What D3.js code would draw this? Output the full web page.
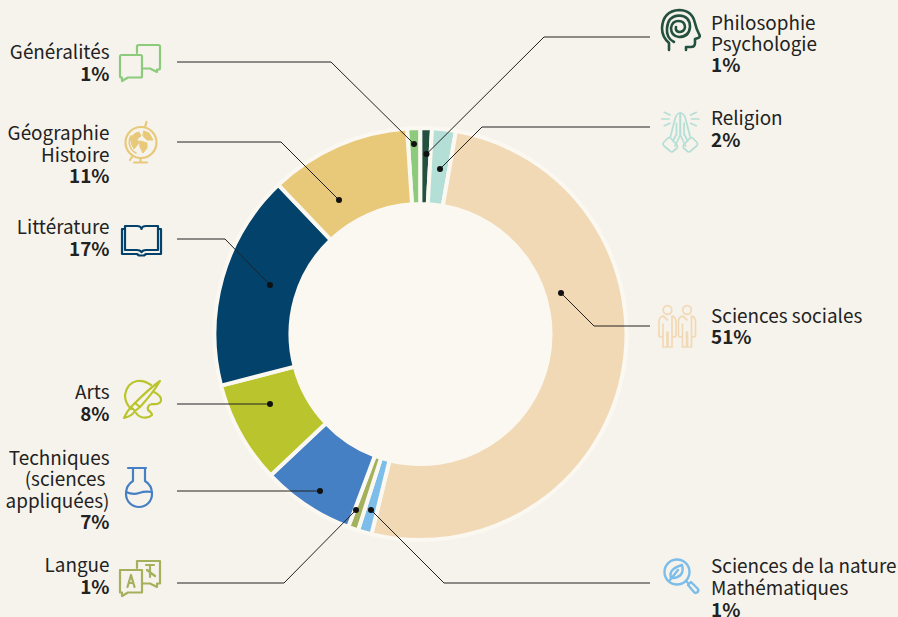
<!DOCTYPE html>
<html><head><meta charset="utf-8">
<script src="https://cdnjs.cloudflare.com/ajax/libs/d3/7.8.5/d3.min.js"></script>
<style>html,body{margin:0;padding:0;background:#f6f3ec}svg{display:block}
text{font-family:"Noto Sans CJK JP","Noto Sans",sans-serif;font-size:18.9px;fill:#222}</style>
</head><body><svg id="c" width="898" height="617"></svg>
<script>
const categories=["Généralités","Philosophie Psychologie","Religion","Sciences sociales","Sciences de la nature Mathématiques","Langue","Techniques (sciences appliquées)","Arts","Littérature","Géographie Histoire"];
const shares=[1.03,0.9,1.86,51.03,1.08,0.8,7.25,8,16.9,11.07];
const percentLabels=["1%","1%","2%","51%","1%","1%","7%","8%","17%","11%"];
const colors=["#8ccb7c","#24503f","#b4dfd6","#f2d9b5","#7cbde9","#a3b05c","#4680c4","#bac52d","#03426a","#e8c97a"];
const startDeg=-3.75;

const svg=d3.select("#c");
const cx=420.5,cy=334,rO=206,rI=130;
svg.append("circle").attr("cx",cx).attr("cy",cy).attr("r",rI+2).attr("fill","#fbf8f1");
const pie=d3.pie().sort(null).value(d=>d).startAngle(startDeg*Math.PI/180).endAngle((startDeg+360)*Math.PI/180);
const arc=d3.arc().innerRadius(rI).outerRadius(rO);
const g=svg.append("g").attr("transform",`translate(${cx},${cy})`);
g.selectAll("path").data(pie(shares)).join("path").attr("d",arc)
 .attr("fill",(d,i)=>colors[i]).attr("stroke","#fbf8f1").attr("stroke-width",4).attr("stroke-linejoin","miter");

// layout annotations (label lines, leader routes, icons), per category
const layout=[
 {side:"l",lines:["Généralités"],y:[59,81],route:[[177,62],[331,62],[414,144]]},
 {side:"r",lines:["Philosophie","Psychologie"],y:[30,51,72],route:[[650,37],[544,37],[426.5,154]]},
 {side:"r",lines:["Religion"],y:[125,147],route:[[650,127],[482,127],[440,169]]},
 {side:"r",lines:["Sciences sociales"],y:[323,344],route:[[650,326],[594,326],[561,293]]},
 {side:"r",lines:["Sciences de la nature","Mathématiques"],y:[573,595,617],route:[[650,583],[444,583],[371,510]]},
 {side:"l",lines:["Langue"],y:[572,594],route:[[177,583],[284,583],[356,510]]},
 {side:"l",lines:["Techniques","(sciences\u00A0","appliquées)"],y:[465,486,508,529],route:[[177,491],[320,491]]},
 {side:"l",lines:["Arts"],y:[399,421],route:[[177,404],[270,404]]},
 {side:"l",lines:["Littérature"],y:[234,256],route:[[177,239],[225,239],[270,285]]},
 {side:"l",lines:["Géographie","Histoire"],y:[140,162,183],route:[[177,142],[281,142],[339,200]]}
];
const line=d3.line();
layout.forEach((L,i)=>{
 svg.append("path").attr("d",line(L.route)).attr("fill","none").attr("stroke","#222").attr("stroke-width",1);
 const p=L.route[L.route.length-1];
 svg.append("circle").attr("cx",p[0]).attr("cy",p[1]).attr("r",3).attr("fill","#111");
 const x=L.side==="l"?109.5:711, anc=L.side==="l"?"end":"start";
 const t=svg.append("g");
 L.lines.forEach((s,k)=>t.append("text").attr("x",x).attr("y",L.y[k]).attr("text-anchor",anc).text(s));
 t.append("text").attr("x",x).attr("y",L.y[L.lines.length]).attr("text-anchor",anc).style("font-weight",700).text(percentLabels[i]);
});

function icon(x,y,i,w,draw){const s=svg.append("g").attr("transform",`translate(${x},${y})`)
 .attr("fill","none").attr("stroke",colors[i]).attr("stroke-width",w).attr("stroke-linejoin","round").attr("stroke-linecap","round");draw(s);}
const P=(s,d)=>s.append("path").attr("d",d);
// Généralités: speech bubbles
icon(119,44,0,2.2,s=>{
 P(s,"M18 9V2.500Q18 1 19.500 1H39.500Q41 1 41 2.500V24Q41 25.500 39.500 25.500H38V28L31 24.500H24");
 P(s,"M2.500 11H21.500Q23 11 23 12.500V32Q23 33.500 21.500 33.500H9L3 37V33.500H2.500Q1 33.500 1 32V12.500Q1 11 2.500 11Z");
});
// Géographie: globe
icon(118,118,9,2.2,s=>{
 s.append("circle").attr("cx",23).attr("cy",24.500).attr("r",15.500);
 P(s,"M28.500 4L27 9M22.500 40V44.500M16 44.500H29M14 39L12 42");
 s.append("path").attr("d","M13 18A12 12 0 0 0 18 35").attr("stroke-width",1.600);
 s.append("g").attr("fill",colors[9]).attr("stroke-width",1).call(c=>{
  P(c,"M12.500 21Q15 15 21 14L23 18L19 21L21 25L16 31Q13 27 12.500 21Z");
  P(c,"M22 23L29 25L29 30L25 35L22 29Z");
  P(c,"M26 13L31 15L35 22L29 22L25 18Z");
 });
});
// Littérature: book
icon(121,224,8,2.2,s=>{
 P(s,"M4 2H16Q20 2 20.500 5Q21 2 25 2H37V26H25Q22 26 20.500 28Q19 26 16 26H4Z");
 P(s,"M4 5H1V30H16L18 31.500H23L25 30H40V5H37");
});
// Arts: palette + brush
icon(116,376,7,2.2,s=>{
 P(s,"M35 9Q28 4 21 5Q11 7 9 19Q9 27 15 33");
 P(s,"M38 16Q46 20 45 25Q43 29 36 28Q31 29 32 34Q36 37 36 39Q32 43 25 41Q22 40 20 37");
 P(s,"M44 5Q34 12 19 27L24 31Q37 17 44 5Z");
 P(s,"M19 27L15 31L19 35L24 31M15 31Q11 35 8 42Q16 40 19 35");
});
// Techniques: flask
icon(125,467,6,2.2,s=>{
 P(s,"M3 1H21M8 1V14Q1 18 1 27A13 13 0 0 0 27 27Q27 18 20 14V1");
 P(s,"M1 25Q8 28 14 26T27 25");
});
// Langue: bubbles with letters
icon(119,559,5,2.2,s=>{
 P(s,"M18 9V2H41V24.500H38V28L31 24.500H24");
 P(s,"M1 11H23V33.500H9L3 37V33.500H1Z");
 P(s,"M8.500 28L12 16L15.500 28M10 24H14");
 P(s,"M27 6H35M31 6V8M28 11L36 17M31 9L31 18");
});
// Philosophie: head with spiral
icon(655,6,1,2.6,s=>{
 P(s,"M14 44V37Q7 31 7 22Q8 5 24 4Q37 4 40 17Q41 22 44 28Q46 31 43 32L40 33V37Q40 41 36 41H31V44");
 P(s,"M19 36Q11 32 12 22Q13 10 24 9.500Q35 10 35 21Q34 31 24 31Q16 30 16 22Q17 15 23.500 15Q30 15 30 21.500Q29 26 24 26Q20 25 21 21");
});
// Religion: praying hands
icon(655,105,2,1.7,s=>{
 for(const m of ["","translate(50.600,0) scale(-1,1)"]){
  const h=s.append("g").attr("transform",m);
  P(h,"M25.300 8Q21.500 8 20 14L15.500 31.500");
  P(h,"M25.300 8V30L20 41M21.500 18V30M18 36L21 30");
  P(h,"M8.500 37.500L13 33Q14.500 32 16 33.500L22 40Q23 41.500 22 43L18 46.500Q16.500 47.500 15 46L8.500 40.500Q7.500 39 8.500 37.500Z");
  P(h,"M9.300 7.300L15 10M6.700 14H14M9.300 20.700L15 18.300");
 }
});
// Sciences sociales: two people
icon(655,300,3,1.7,s=>{
 for(const dx of [0,19.500]){const h=s.append("g").attr("transform",`translate(${dx},0)`);
  h.append("circle").attr("cx",12.500).attr("cy",10).attr("r",4.300);
  P(h,"M12.500 20L8 16Q4 17 4 22V35Q4 37 6 37Q8 37 8 35V24M8 35V47H12V32M13 32V47H17V35M17 24V35Q17 37 19 37Q21 37 21 35V22Q21 17 17 16Z");}
});
// Sciences de la nature: magnifier and leaf
icon(663,558,4,2.4,s=>{
 s.append("circle").attr("cx",14).attr("cy",14).attr("r",12.500);
 P(s,"M23 23L25 25M25 27L28 24L35 31Q36 33 34 34.500Q32 35.500 31 34Z");
 P(s,"M8 20Q5 11 19 7Q22 18 11 20ZM7 22L15 12");
});
</script></body></html>
